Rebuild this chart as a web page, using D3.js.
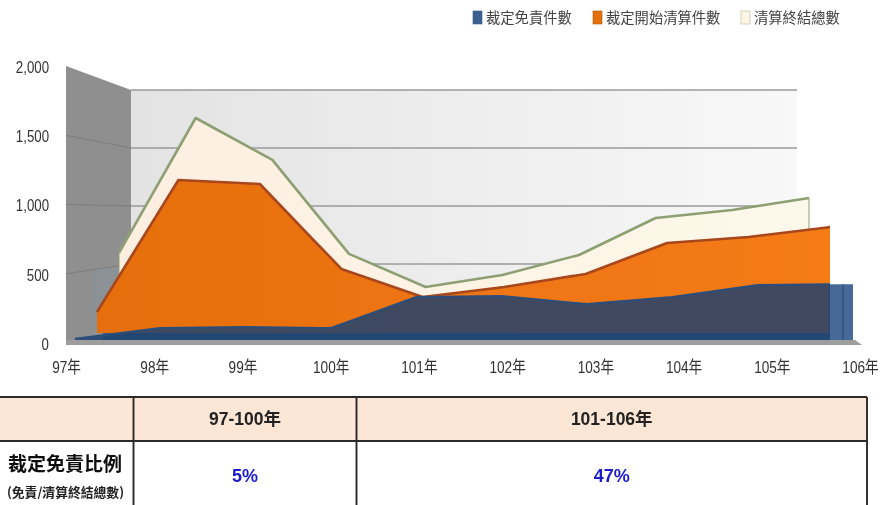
<!DOCTYPE html>
<html>
<head>
<meta charset="utf-8">
<script src="https://cdn.jsdelivr.net/npm/d3@7"></script>
<style>
  html, body { margin: 0; background: #fff; }
  svg { display: block; }
</style>
</head>
<body>
<svg id="chart" width="882" height="505"></svg>
<script>
// Data
var years = ['97年', '98年', '99年', '100年', '101年', '102年', '103年', '104年', '105年', '106年']
var exempted = [10, 89, 96, 89, 318, 325, 266, 318, 406, 413]
var liquidation = [164, 1197, 1166, 501, 282, 360, 462, 704, 751, 829]
var concluded = [607, 1730, 1381, 599, 324, 424, 590, 898, 965, 1065]
var yTicks = [0, 500, 1000, 1500, 2000]
var legendNames = ['裁定免責件數', '裁定開始清算件數', '清算終結總數']
var periods = ['97-100年', '101-106年']
var ratios = ['5%', '47%']

var svg = d3.select('#chart')
var labelFont = '"Liberation Sans", "Noto Sans CJK TC", sans-serif'
var cjkFont = '"Noto Sans CJK TC", sans-serif'

// Gradients for the wall and the two lit areas
var defs = svg.append('defs')
function hGradient(id, from, to) {
  var g = defs.append('linearGradient').attr('id', id)
  g.append('stop').attr('offset', 0).attr('stop-color', from)
  g.append('stop').attr('offset', 1).attr('stop-color', to)
}
hGradient('wall', '#e3e3e3', '#f8f8f8')
hGradient('creamFill', '#fdeee0', '#fdf9ea')
hGradient('orangeFill', '#e66e10', '#f67b14')
defs.append('filter').attr('id', 'soft').append('feGaussianBlur').attr('stdDeviation', 0.45)
defs.append('clipPath').attr('id', 'navyClip').append('rect')
  .attr('x', 0).attr('y', 0).attr('width', 830).attr('height', 505)

var root = svg.append('g').attr('filter', 'url(#soft)')

// Front and back planes of the fake 3D box
var front = { x0: 66, y0: 343, y2000: 66 }
var back = { x0: 131, y0: 322, y2000: 90 }
var backRight = 797

// y scale for a plane at depth t (0 = front, 1 = back)
function planeY(t) {
  return d3.scaleLinear()
    .domain([0, 2000])
    .range([front.y0 + (back.y0 - front.y0) * t, front.y2000 + (back.y2000 - front.y2000) * t])
}

// Walls
var frontY = planeY(0)
var backY = planeY(1)
root.append('polygon').attr('fill', 'url(#wall)')
  .attr('points', [[back.x0, backY(2000)], [backRight, backY(2000)], [backRight, backY(0)], [back.x0, backY(0)]].join(' '))
root.append('polygon').attr('fill', '#8f8f8f')
  .attr('points', [[front.x0, frontY(2000)], [back.x0, backY(2000)], [back.x0, 345], [front.x0, 345]].join(' '))
// bluish patch on the side wall, next to the cream area
root.append('rect').attr('x', 93).attr('y', 268).attr('width', 30).attr('height', 74)
  .attr('fill', '#7fa2c4').attr('fill-opacity', 0.14)

// Gridlines on both walls
yTicks.slice(1).forEach(function (t) {
  root.append('line').attr('x1', back.x0).attr('x2', backRight)
    .attr('y1', backY(t)).attr('y2', backY(t))
    .attr('stroke', '#9a9a9a').attr('stroke-width', 1.4)
  if (t < 2000) {
    root.append('line').attr('x1', front.x0).attr('x2', back.x0)
      .attr('y1', frontY(t)).attr('y2', backY(t))
      .attr('stroke', '#7d7d7d').attr('stroke-width', 1)
  }
})

// One area per series, each on its own depth plane
function drawSeries(parent, values, opts) {
  var x = d3.scalePoint().domain(years).range([opts.x0, opts.x1])
  var y = planeY(opts.depth)
  var area = d3.area()
    .x(function (d, i) { return x(years[i]) })
    .y0(y(0))
    .y1(function (d) { return y(d) })
  var line = d3.line()
    .x(function (d, i) { return x(years[i]) })
    .y(function (d) { return y(d) })
  parent.append('path').datum(values)
    .attr('d', area)
    .attr('fill', opts.fill)
    .attr('fill-opacity', opts.opacity || 1)
  parent.append('path').datum(values)
    .attr('d', line)
    .attr('fill', 'none')
    .attr('stroke', opts.stroke)
    .attr('stroke-width', opts.width)
    .attr('stroke-linejoin', 'round')
  if (opts.edge) {
    ;[0, 9].forEach(function (i) {
      parent.append('line').attr('x1', x(years[i])).attr('x2', x(years[i]))
        .attr('y1', y(values[i])).attr('y2', y(0))
        .attr('stroke', opts.stroke).attr('stroke-width', opts.edge)
    })
  }
}

drawSeries(root, concluded, { x0: 119, x1: 809, depth: 0.815, fill: 'url(#creamFill)', stroke: '#8e9f73', width: 2.6, edge: 1 })
drawSeries(root, liquidation, { x0: 97, x1: 830, depth: 0.477, fill: 'url(#orangeFill)', stroke: '#a8471c', width: 2.6 })

// Navy side face and the solid strip under the orange base
var navyPlane = { x0: 75, x1: 843, depth: 0.14 }
var navyY = planeY(navyPlane.depth)
root.append('polygon').attr('fill', '#46699a')
  .attr('points', [[829, navyY(exempted[9])], [853, navyY(exempted[9])], [853, navyY(0)], [829, navyY(0)]].join(' '))
root.append('line').attr('x1', 843).attr('x2', 843)
  .attr('y1', navyY(exempted[9])).attr('y2', navyY(0))
  .attr('stroke', '#2b4a75').attr('stroke-width', 1.2)
root.append('rect').attr('x', 103).attr('y', planeY(0.477)(0)).attr('width', 727)
  .attr('height', navyY(0) - planeY(0.477)(0)).attr('fill', '#3a6090')

// Navy is see-through over the orange, and stops at the orange edge on the right
var navyGroup = root.append('g').attr('clip-path', 'url(#navyClip)')
drawSeries(navyGroup, exempted, { x0: navyPlane.x0, x1: navyPlane.x1, depth: navyPlane.depth, fill: '#20426e', opacity: 0.85, stroke: '#2b4e7c', width: 2 })

// Floor strip
root.append('polygon').attr('fill', '#9d9d9d')
  .attr('points', [[front.x0, navyY(0)], [855, navyY(0)], [862, 345], [front.x0, 345]].join(' '))

// Narrow a label the way the squeezed picture does
function squeeze(sel, k) {
  sel.each(function () {
    d3.select(this)
      .attr('textLength', this.getComputedTextLength() * k)
      .attr('lengthAdjust', 'spacingAndGlyphs')
  })
}

// Axes
var yAxis = d3.axisLeft(frontY).tickValues(yTicks).tickFormat(d3.format(',')).tickSize(0).tickPadding(0)
var gy = root.append('g').attr('transform', 'translate(49,1)').call(yAxis)
var xScale = d3.scalePoint().domain(years).range([66, 860])
var xAxis = d3.axisBottom(xScale).tickSize(0).tickPadding(0)
var gx = root.append('g').attr('transform', 'translate(0,361)').call(xAxis)
gy.select('.domain').remove()
gx.select('.domain').remove()
gy.selectAll('text').attr('font-family', labelFont).attr('font-size', 17).attr('fill', '#333').call(squeeze, 0.78)
gx.selectAll('text').attr('font-family', labelFont).attr('font-size', 17).attr('fill', '#333').call(squeeze, 0.8)

// Legend
var legendX = [473, 593, 741]
var legendText = [486, 606, 754]
var legendColors = ['#3a5f8f', '#e2700f', '#fdf5e6']
var legendEdges = ['#3a5f8f', '#c05a10', '#b9b59a']
legendNames.forEach(function (name, i) {
  root.append('rect').attr('x', legendX[i]).attr('y', 11).attr('width', 9).attr('height', 13)
    .attr('fill', legendColors[i]).attr('stroke', legendEdges[i]).attr('stroke-width', 0.6)
  root.append('text').attr('x', legendText[i]).attr('y', 23)
    .attr('font-family', cjkFont).attr('font-size', 14.3).attr('fill', '#444').text(name)
})

// Table below the chart
var colX = [-2, 133.5, 356.5, 867]
var rowY = [397, 441, 507]
root.append('rect').attr('x', colX[0]).attr('y', rowY[0]).attr('width', colX[3] - colX[0]).attr('height', rowY[1] - rowY[0]).attr('fill', '#fce6d6')
var tableLine = '#2a2a2a'
rowY.slice(0, 2).forEach(function (y) {
  root.append('line').attr('x1', colX[0]).attr('x2', colX[3]).attr('y1', y).attr('y2', y)
    .attr('stroke', tableLine).attr('stroke-width', 1.9)
})
colX.slice(1).forEach(function (x) {
  root.append('line').attr('x1', x).attr('x2', x).attr('y1', rowY[0]).attr('y2', rowY[2])
    .attr('stroke', tableLine).attr('stroke-width', 1.9)
})
periods.forEach(function (p, i) {
  var cx = (colX[i + 1] + colX[i + 2]) / 2
  root.append('text').attr('x', cx).attr('y', 425).attr('text-anchor', 'middle')
    .attr('font-family', labelFont).attr('font-weight', 'bold').attr('font-size', 17.5)
    .attr('fill', '#222').text(p)
  root.append('text').attr('x', cx).attr('y', 481.5).attr('text-anchor', 'middle')
    .attr('font-family', '"Liberation Sans", sans-serif').attr('font-weight', 'bold').attr('font-size', 18)
    .attr('fill', '#1c1ccc').text(ratios[i])
})
root.append('text').attr('x', 65).attr('y', 471).attr('text-anchor', 'middle')
  .attr('font-family', cjkFont).attr('font-weight', 'bold').attr('font-size', 19).attr('fill', '#111').text('裁定免責比例')
root.append('text').attr('x', 65.5).attr('y', 497).attr('text-anchor', 'middle')
  .attr('font-family', cjkFont).attr('font-weight', 'bold').attr('font-size', 12.8).attr('fill', '#222').text('(免責/清算終結總數)')
</script>
</body>
</html>
